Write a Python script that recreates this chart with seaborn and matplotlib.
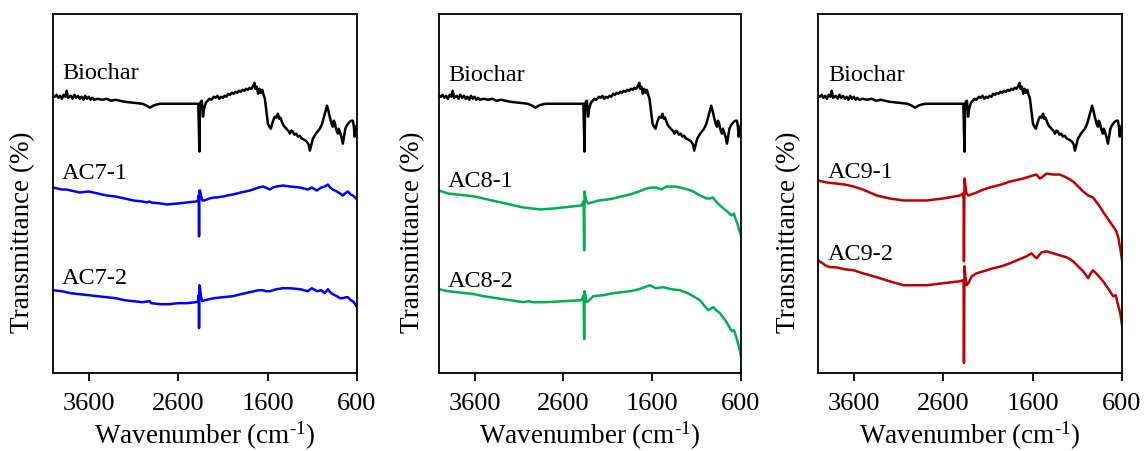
import matplotlib
matplotlib.use("Agg")
import matplotlib.pyplot as plt
import seaborn as sns
import pandas as pd

# ---------------- data (transmittance, arbitrary offset units) ----------------
biochar_wn = [4000, 3980, 3960, 3940, 3920, 3900, 3880, 3860, 3847, 3830, 3800, 3780, 3760, 3740,
              3720, 3700, 3680, 3660, 3640, 3620, 3600, 3580, 3560, 3540, 3500, 3450, 3400, 3350,
              3300, 3200, 3100, 3000, 2950, 2915, 2880, 2850, 2800, 2700, 2600, 2500, 2400, 2375,
              2368, 2362, 2356, 2348, 2335, 2322, 2310, 2290, 2270, 2250, 2230, 2200, 2180, 2160,
              2140, 2120, 2100, 2080, 2060, 2040, 2020, 2000, 1980, 1960, 1940, 1920, 1900, 1880,
              1860, 1840, 1820, 1800, 1780, 1760, 1745, 1735, 1720, 1705, 1690, 1675, 1660, 1645,
              1630, 1610, 1596, 1580, 1563, 1545, 1530, 1518, 1500, 1484, 1470, 1455, 1440, 1420,
              1400, 1380, 1360, 1350, 1335, 1317, 1300, 1280, 1260, 1240, 1217, 1190, 1160, 1140,
              1127, 1110, 1093, 1060, 1015, 990, 960, 945, 935, 920, 905, 885, 870, 860, 848, 835,
              815, 805, 792, 775, 758, 745, 730, 715, 700, 680, 660, 646, 635, 626, 615, 600]
biochar_t = [278, 277, 279, 276, 278, 275, 279, 277, 283, 276, 278, 275, 279, 276,
             278, 275, 277, 274, 278, 275, 277, 274, 276, 274, 275, 274, 275, 273,
             274, 272, 271, 270, 268, 266, 268, 269, 270, 270, 270, 270, 270, 270,
             245, 222, 265, 272, 273, 257, 265, 271, 273, 275, 274, 277, 276, 278,
             275, 277, 276, 278, 277, 280, 279, 281, 280, 282, 281, 283, 282, 284,
             283, 285, 284, 286, 285, 288, 291, 285, 287, 280, 285, 281, 284, 279,
             275, 260, 250, 247, 245, 251, 255, 257, 256, 260, 255, 256, 252, 248,
             246, 244, 242, 240, 243, 242, 239, 240, 237, 238, 235, 234, 232, 229,
             223, 229, 235, 240, 245, 250, 260, 265, 268, 263, 257, 250, 247, 253, 251, 245,
             240, 245, 242, 237, 230, 237, 245, 248, 250, 252, 253, 253, 247, 237, 245, 249]

ac71_wn = [4000, 3950, 3900, 3850, 3800, 3700, 3600, 3500, 3400, 3300, 3200, 3100, 3000, 2950,
           2920, 2900, 2800, 2725, 2600, 2500, 2400, 2375, 2370, 2366, 2362, 2355, 2345, 2330,
           2310, 2250, 2200, 2166, 2100, 2050, 1987, 1900, 1797, 1700, 1652, 1620, 1574, 1540,
           1500, 1428, 1350, 1238, 1149, 1105, 1048, 1000, 960, 925, 900, 870, 826, 790, 758,
           720, 702, 670, 646, 620, 600]
ac71_t = [186, 185, 184, 184, 183, 181, 182, 180, 178, 177, 175, 173, 172, 171,
          172, 171, 170, 169, 170, 171, 172, 173, 178, 137, 183, 183, 178, 173,
          173, 175, 176, 176, 177, 178, 179, 181, 183, 186, 187, 186, 184, 186,
          187, 188, 187, 186, 184, 186, 183, 186, 187, 189, 186, 184, 182, 180, 178,
          181, 182, 179, 178, 176, 174]

ac72_wn = [4000, 3900, 3800, 3700, 3600, 3500, 3400, 3300, 3200, 3100, 3000, 2920, 2900, 2800,
           2700, 2600, 2500, 2400, 2375, 2370, 2366, 2362, 2355, 2345, 2330, 2300, 2200, 2100,
           1987, 1900, 1800, 1700, 1652, 1620, 1574, 1500, 1428, 1350, 1238, 1149, 1105, 1048,
           1000, 960, 925, 900, 870, 826, 790, 758, 720, 702, 670, 646, 620, 600]
ac72_t = [83, 82, 80, 79, 78, 77, 76, 75, 73, 72, 71, 72, 70, 69,
          69, 70, 70, 71, 72, 78, 45, 88, 85, 77, 72, 73, 75, 76,
          77, 79, 81, 83, 83, 82, 82, 84, 85, 85, 84, 82, 85, 82,
          83, 80, 84, 81, 79, 77, 75, 75, 76, 76, 73, 72, 69, 66]

ac81_wn = [4000, 3900, 3800, 3692, 3600, 3500, 3354, 3200, 3053, 2950, 2865, 2700, 2602, 2500,
           2396, 2372, 2366, 2362, 2355, 2340, 2320, 2200, 2100, 2039, 1950, 1851, 1750, 1663,
           1600, 1551, 1500, 1438, 1350, 1287, 1200, 1137, 1062, 987, 950, 919, 880, 837, 770,
           705, 679, 665, 649, 625, 600]
ac81_t = [183, 180, 179, 178, 177, 175, 172, 169, 166, 165, 164, 165, 166, 167,
          168, 172, 123, 182, 178, 172, 170, 173, 174, 175, 177, 179, 182, 185,
          186, 186, 184, 187, 187, 186, 184, 182, 178, 175, 175, 176, 172, 168, 163,
          158, 160, 155, 152, 145, 138]

ac82_wn = [4000, 3900, 3800, 3692, 3600, 3500, 3354, 3200, 3053, 2990, 2950, 2790, 2600, 2396,
           2372, 2366, 2362, 2355, 2340, 2320, 2265, 2150, 2039, 1950, 1851, 1750, 1626, 1560,
           1476, 1380, 1287, 1200, 1137, 1062, 1000, 968, 912, 880, 837, 770, 705, 679, 650,
           625, 600]
ac82_t = [84, 82, 81, 80, 79, 77, 75, 73, 71, 72, 71, 71, 72, 73,
          78, 34, 82, 79, 71, 72, 77, 78, 80, 81, 82, 84, 88, 85,
          86, 84, 83, 80, 77, 73, 66, 63, 66, 63, 60, 52, 42, 43, 35,
          27, 17]

ac91_wn = [4000, 3900, 3800, 3700, 3602, 3500, 3342, 3200, 3044, 2900, 2784, 2600, 2412, 2380,
           2372, 2368, 2362, 2355, 2340, 2319, 2226, 2150, 2040, 1950, 1854, 1750, 1668, 1600,
           1556, 1520, 1500, 1444, 1370, 1296, 1220, 1147, 1090, 1035, 980, 924, 849, 800, 738,
           700, 663, 640, 620, 600]
ac91_t = [193, 191, 190, 189, 187, 184, 178, 175, 173, 173, 173, 175, 178, 180,
          175, 112, 195, 190, 180, 178, 181, 184, 187, 189, 192, 194, 196, 198,
          199, 195, 196, 200, 199, 199, 196, 192, 187, 182, 178, 176, 167, 160, 152,
          147, 142, 135, 125, 113]

ac92_wn = [4000, 3950, 3900, 3850, 3800, 3700, 3600, 3500, 3342, 3200, 3044, 2900, 2784, 2600,
           2412, 2380, 2372, 2368, 2362, 2355, 2340, 2319, 2280, 2226, 2150, 2040, 1950, 1854,
           1750, 1668, 1612, 1580, 1556, 1520, 1500, 1444, 1370, 1296, 1220, 1147, 1070, 1035,
           979, 950, 924, 880, 812, 750, 700, 670, 650, 620, 600]
ac92_t = [113, 110, 107, 106, 106, 104, 103, 100, 96, 92, 88, 88, 88, 90,
          92, 93, 92, 10, 107, 100, 88, 90, 97, 100, 102, 105, 107, 110,
          114, 117, 120, 117, 115, 119, 121, 122, 120, 118, 116, 112, 105, 102,
          95, 100, 103, 99, 92, 84, 77, 78, 70, 60, 48]

x_ticks = [3600, 2600, 1600, 600]
x_label = "Wavenumber (cm$^{\\text{-1}}$)"
y_label = "Transmittance (%)"

panels = [
    {"series": [("Biochar", biochar_wn, biochar_t, "#000000", 3900, 301),
                ("AC7-1", ac71_wn, ac71_t, "#0000FF", 3900, 201),
                ("AC7-2", ac72_wn, ac72_t, "#0000FF", 3900, 96)],
     "pos": [0.0462, 0.1726, 0.2653, 0.7942], "ylab_x": -0.059},
    {"series": [("Biochar", biochar_wn, biochar_t, "#000000", 3899, 299),
                ("AC8-1", ac81_wn, ac81_t, "#00B050", 3899, 193),
                ("AC8-2", ac82_wn, ac82_t, "#00B050", 3899, 93)],
     "pos": [0.3831, 0.1726, 0.2635, 0.7942], "ylab_x": -0.046},
    {"series": [("Biochar", biochar_wn, biochar_t, "#000000", 3889, 299),
                ("AC9-1", ac91_wn, ac91_t, "#C00000", 3889, 202),
                ("AC9-2", ac92_wn, ac92_t, "#C00000", 3889, 120)],
     "pos": [0.7138, 0.1726, 0.2653, 0.7942], "ylab_x": -0.056},
]

# ---------------- styling ----------------
sns.set_style("ticks")
plt.rcParams["font.family"] = ["Liberation Serif", "DejaVu Serif"]
plt.rcParams["mathtext.fontset"] = "custom"
plt.rcParams["mathtext.rm"] = "Liberation Serif"
plt.rcParams["mathtext.it"] = "Liberation Serif:italic"
plt.rcParams["text.color"] = "#000000"
plt.rcParams["axes.labelcolor"] = "#000000"
plt.rcParams["xtick.color"] = "#000000"
plt.rcParams["ytick.color"] = "#000000"

fig = plt.figure(figsize=(11.46, 4.52), dpi=100)

for p in panels:
    ax = fig.add_axes(p["pos"])
    for name, wn, t, col, lx, ly in p["series"]:
        df = pd.DataFrame({"wn": wn, "t": t})
        sns.lineplot(data=df, x="wn", y="t", ax=ax, color=col, lw=1.8,
                     sort=False, estimator=None)
        ax.text(lx, ly, name, fontsize=17.5, color="#000000", ha="left", va="center")
    ax.set_xlim(4000, 600)
    ax.set_ylim(0, 360)
    ax.set_xticks(x_ticks)
    ax.set_xticklabels([str(v) for v in x_ticks])
    ax.set_yticks([])
    ax.set_xlabel(x_label, fontsize=19.5, labelpad=3, color="#000000")
    ax.set_ylabel(y_label, fontsize=19.5, color="#000000")
    ax.yaxis.set_label_coords(p["ylab_x"], 0.394)
    ax.tick_params(axis="x", direction="out", length=6, width=1.3, labelsize=19, pad=8,
                   colors="#000000", labelcolor="#000000")
    for s in ax.spines.values():
        s.set_visible(True)
        s.set_linewidth(1.3)
        s.set_color("#000000")

fig.savefig("out.png", dpi=100)
